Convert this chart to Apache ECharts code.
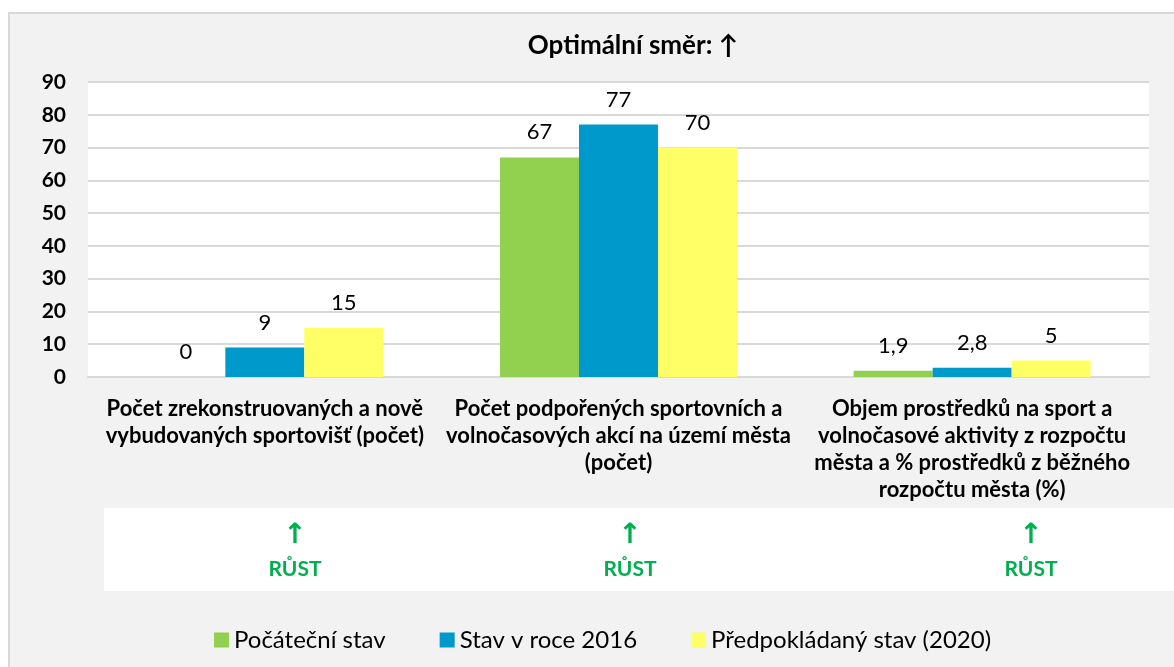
<!DOCTYPE html>
<html>
<head>
<meta charset="utf-8">
<script src="https://cdn.jsdelivr.net/npm/echarts@6/dist/echarts.min.js"></script>
<style>
  html, body { margin: 0; padding: 0; background: #fff; }
  #chart { width: 1174px; height: 667px; }
</style>
</head>
<body>
<div id="chart"></div>
<script>
// categories (line breaks as in the original)
const categories = [
  'Počet zrekonstruovaných a nově\nvybudovaných sportovišť (počet)',
  'Počet podpořených sportovních a\nvolnočasových akcí na území města\n(počet)',
  'Objem prostředků na sport a\nvolnočasové aktivity z rozpočtu\nměsta a % prostředků z běžného\nrozpočtu města (%)'
]
const seriesNames = ['Počáteční stav', 'Stav v roce 2016', 'Předpokládaný stav (2020)']
const initialValues = [0, 67, 1.9]
const values2016 = [9, 77, 2.8]
const values2020 = [15, 70, 5]
const trendLabels = ['RŮST', 'RŮST', 'RŮST']

const FONT = 'Lato, "Noto Sans", sans-serif'
const colors = ['#92d050', '#0099cc', '#ffff66']
const fmt = p => String(p.value).replace('.', ',')

const myChart = echarts.init(document.getElementById('chart'))

// optimal direction row under the axis
const trendX = [295, 630, 1031]
const trendText = []
trendLabels.forEach((t, i) => {
  trendText.push({
    type: 'text', x: trendX[i], y: 536,
    style: { text: '↑', fill: '#00b050', font: 'bold 28px "DejaVu Sans", sans-serif', align: 'center', verticalAlign: 'middle' }
  })
  trendText.push({
    type: 'text', x: trendX[i], y: 569,
    style: { text: t, fill: '#00b050', font: 'bold 21px ' + FONT, align: 'center', verticalAlign: 'middle' }
  })
})

const barSeries = [initialValues, values2016, values2020].map((d, i) => ({
  name: seriesNames[i],
  type: 'bar',
  data: d,
  barGap: 0,
  barCategoryGap: '33%',
  itemStyle: { color: colors[i] },
  label: {
    show: true,
    position: 'top',
    distance: 14,
    formatter: fmt,
    color: '#000',
    fontFamily: FONT,
    fontSize: 22
  }
}))

const option = {
  animation: false,
  backgroundColor: '#fff',
  title: {
    text: 'Optimální směr: ↑',
    left: 628,
    textAlign: 'center',
    top: 28,
    textStyle: { color: '#000', fontFamily: FONT, fontWeight: 'bold', fontSize: 26 }
  },
  graphic: [
    {
      type: 'rect', z: -10, silent: true,
      shape: { x: 9, y: 13, width: 1180, height: 670 },
      style: { fill: '#f2f2f2', stroke: '#d9d9d9', lineWidth: 2 }
    },
    {
      type: 'rect', z: -5, silent: true,
      shape: { x: 104, y: 508, width: 1070, height: 83 },
      style: { fill: '#fff' }
    }
  ].concat(trendText),
  legend: {
    left: 209,
    top: 623,
    itemWidth: 15,
    itemHeight: 15,
    itemGap: 54,
    icon: 'rect',
    textStyle: { color: '#000', fontFamily: FONT, fontSize: 24 },
    data: seriesNames
  },
  grid: {
    left: 88,
    right: 25,
    top: 82,
    bottom: 290,
    show: true,
    backgroundColor: '#fff',
    borderWidth: 0
  },
  xAxis: {
    type: 'category',
    data: categories,
    axisTick: { show: false },
    axisLine: { lineStyle: { color: '#d9d9d9', width: 2 } },
    axisLabel: {
      interval: 0,
      margin: 18,
      color: '#000',
      fontFamily: FONT,
      fontWeight: 'bold',
      fontSize: 22,
      lineHeight: 27,
      align: 'center'
    }
  },
  yAxis: {
    type: 'value',
    min: 0,
    max: 90,
    interval: 10,
    axisLine: { show: false },
    axisTick: { show: false },
    splitLine: { lineStyle: { color: '#d9d9d9', width: 2 } },
    axisLabel: {
      margin: 22,
      color: '#000',
      fontFamily: FONT,
      fontWeight: 'bold',
      fontSize: 21
    }
  },
  series: barSeries
}
myChart.setOption(option)
</script>
</body>
</html>
